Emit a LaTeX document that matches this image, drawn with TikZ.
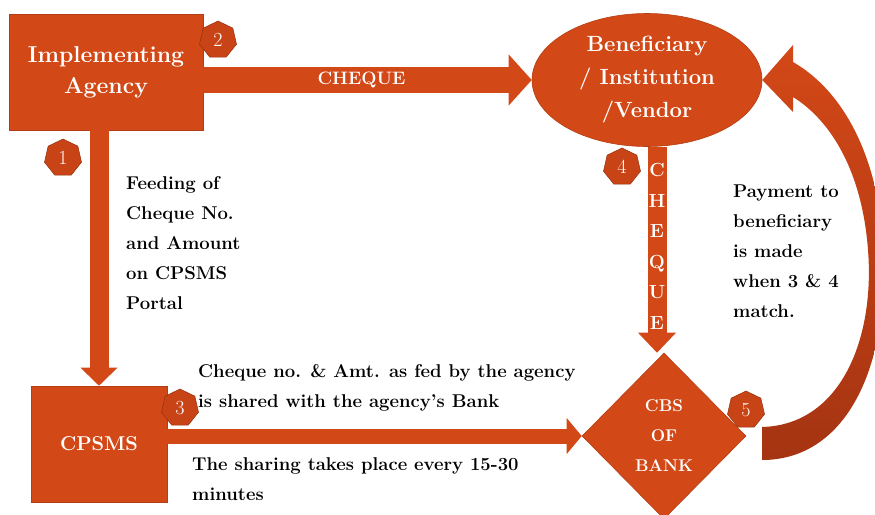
\documentclass[tikz,border=0pt]{standalone}
\usetikzlibrary{shapes.geometric,arrows.meta,calc}
\definecolor{rust}{RGB}{211,72,23}
\definecolor{rustdark}{RGB}{165,52,18}
\begin{document}
\begin{tikzpicture}[x=1pt,y=-1pt,
    box/.style={draw=rust!85!black, line width=0.6pt, fill=rust, text=white, inner sep=0pt, align=center},
    badge/.style={regular polygon, regular polygon sides=7, minimum size=38pt, inner sep=0pt,
        fill=rust!95!black, draw=rust!70!black, line width=0.5pt, text=white, font=\fontsize{20}{20}\selectfont},
    blockarrow/.style n args={3}{draw=rust, line width=#1, -{Triangle[width=#2, length=#3, line width=0pt]}},
    note/.style={anchor=north west, inner sep=0pt, align=left, font=\fontsize{18.5}{30}\selectfont\bfseries}]

    \useasboundingbox (0,0) rectangle (875,514);

    \node[box, minimum width=194pt, minimum height=116pt, font=\fontsize{23}{31}\selectfont\bfseries] (ia) at (106,72) {Implementing\\Agency};
    \node[box, ellipse, minimum width=230pt, minimum height=133pt, font=\fontsize{22}{33}\selectfont\bfseries] (ben) at (647,80) {Beneficiary\\/ Institution\\/Vendor};
    \node[box, minimum width=136pt, minimum height=116pt, font=\fontsize{20}{20}\selectfont\bfseries] (cpsms) at (99,444) {CPSMS};
    \node[box, diamond, minimum width=164pt, minimum height=166pt, font=\fontsize{17}{30}\selectfont\bfseries] (cbs) at (664,436) {CBS\\OF\\BANK};

    \draw[blockarrow={26pt}{51pt}{23pt}] (ia.east |- ben.west) -- node[text=white, xshift=-6pt, font=\fontsize{18}{18}\selectfont\bfseries] (chq) {CHEQUE} (ben.west);
    \draw[blockarrow={19pt}{37pt}{18pt}] (cpsms.north |- ia.south) -- (cpsms.north);
    \draw[blockarrow={15pt}{36pt}{15pt}] (cpsms.east |- cbs.west) -- (cbs.west);
    \draw[blockarrow={19pt}{38pt}{20pt}] ($(cbs.north |- ben.south)+(-7,0)$) -- node[text=white, yshift=3.5pt, align=center, font=\fontsize{19}{30.5}\selectfont\bfseries] (chqv) {C\\H\\E\\Q\\U\\E} ($(cbs.north)+(-7,0)$);

    \shade[top color=rust, bottom color=rustdark] (ben.east) -- (793,45) -- (793,62)
        .. controls (850,95) and (882,170) .. (884,260)
        .. controls (886,380) and (840,460) .. (762,460) -- (762,427)
        .. controls (840,425) and (875,340) .. (868,250)
        .. controls (862,170) and (830,120) .. (793,97) -- (793,112) -- cycle;

    \node[badge] (b1) at (63,158) {1};
    \node[badge] (b2) at (218,40) {2};
    \node[badge] (b3) at (180,408) {3};
    \node[badge] (b4) at (622,167) {4};
    \node[badge] (b5) at (746,410) {5};

    \node[note] (feed) at (126,176) {Feeding of\\Cheque No.\\and Amount\\on CPSMS\\Portal};
    \node[note] (shared) at (198,364) {Cheque no. \& Amt. as fed by the agency\\is shared with the agency's Bank};
    \node[note] (timing) at (192,457) {The sharing takes place every 15-30\\minutes};
    \node[note] (match) at (733,185) {Payment to\\beneficiary\\is made\\when 3 \& 4\\match.};
\end{tikzpicture}
\end{document}
